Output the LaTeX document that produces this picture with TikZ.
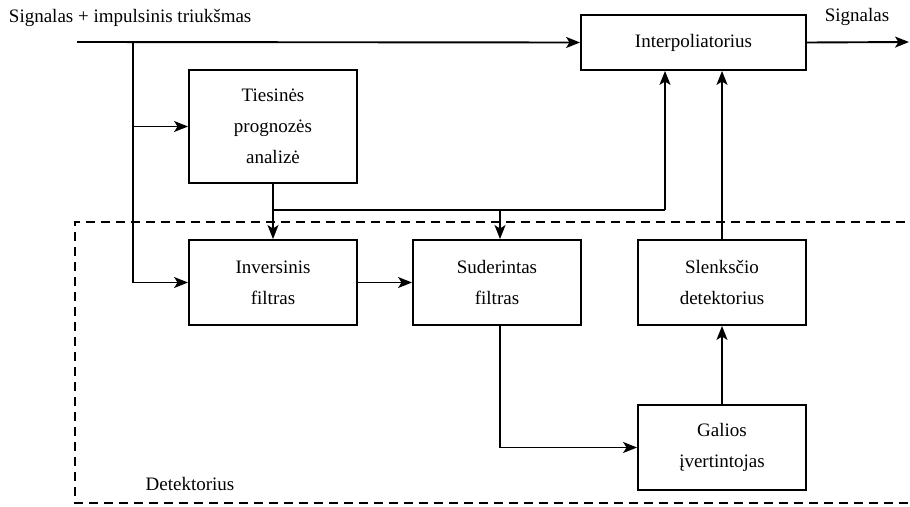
\documentclass[tikz,border=0pt]{standalone}
\usepackage{fontspec}
\setmainfont{Liberation Serif}
\usetikzlibrary{arrows.meta}
\begin{document}
\begin{tikzpicture}[x=1pt,y=-1pt,
  line width=1.9pt,
  >={Stealth[length=14pt,width=11pt,inset=3.5pt]},
  block/.style={draw,rectangle,align=center,font=\fontsize{19}{31}\selectfont,inner sep=0pt},
  label/.style={font=\fontsize{19}{22}\selectfont,inner sep=0pt},
  group/.style={draw,line width=2.6pt,dash pattern=on 9pt off 6pt}]
\useasboundingbox (0,0) rectangle (910,506);

% detector group frame
\draw[group] (920,222) -- (75,222) -- (75,503) -- (920,503);
\node[label] (det) at (190,484) {Detektorius};

% blocks
\node[block,minimum width=168pt,minimum height=113pt] (lpa) at (273,126.5) {Tiesinės\\prognozės\\analizė};
\node[block,minimum width=225pt,minimum height=55pt] (interp) at (693.5,42.5) {Interpoliatorius};
\node[block,minimum width=168pt,minimum height=85pt] (inv) at (273,282.5) {Inversinis\\filtras};
\node[block,minimum width=168pt,minimum height=85pt] (mf) at (497,282.5) {Suderintas\\filtras};
\node[block,minimum width=168pt,minimum height=85pt] (thr) at (722,282.5) {Slenksčio\\detektorius};
\node[block,minimum width=168pt,minimum height=85pt] (pow) at (722,447.5) {Galios\\įvertintojas};

% input and output
\node[label,anchor=west] (inlbl) at (8,18) {Signalas + impulsinis triukšmas};
\node[label] (outlbl) at (857,17) {Signalas};
\coordinate (in) at (77,42);
\coordinate (split) at (133,42);
\coordinate (out) at (909,42);
\draw[->] (in) -- (interp.west);
\draw[->] (interp.east) -- (out);

% input branches
\draw[->] (split) |- (lpa.west);
\draw[->] (split) |- (inv.west);

% prediction coefficients
\coordinate (coef) at (273,210);
\draw[->] (lpa.south) -- (inv.north);
\draw (coef) -- (665,210);
\draw[->] (500,210) -- (mf.north -| 500,0);
\draw[->] (665,210) -- (interp.south -| 665,0);

% detector chain
\draw[->] (inv.east) -- (mf.west);
\draw[->] (mf.south -| 500,0) |- (pow.west);
\draw[->] (pow.north) -- (thr.south);
\draw[->] (thr.north) -- (interp.south -| thr.north);
\end{tikzpicture}
\end{document}
